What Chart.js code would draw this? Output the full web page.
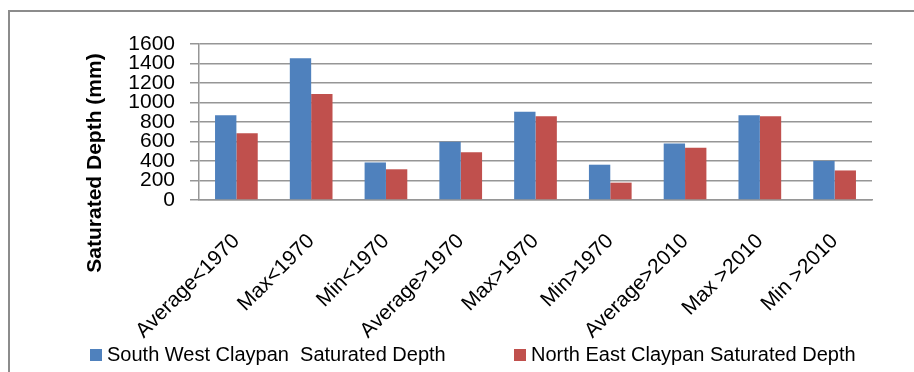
<!DOCTYPE html>
<html>
<head>
<meta charset="utf-8">
<script src="https://cdn.jsdelivr.net/npm/chart.js@4.4.1/dist/chart.umd.min.js"></script>
<style>
  html, body { margin: 0; padding: 0; background: #ffffff; }
  #wrap { position: relative; width: 914px; height: 372px; }
</style>
</head>
<body>
<div id="wrap"><canvas id="c" width="914" height="372"></canvas></div>
<script>
// Period statistics for each claypan
const categories = ['Average<1970', 'Max<1970', 'Min<1970', 'Average>1970', 'Max>1970',
                    'Min>1970', 'Average>2010', 'Max >2010', 'Min >2010'];
const southWestDepth = [868, 1455, 385, 597, 905, 362, 580, 870, 402];
const northEastDepth = [685, 1088, 315, 490, 860, 178, 535, 860, 303];
const seriesNames = ['South West Claypan  Saturated Depth', 'North East Claypan Saturated Depth'];
const yTickValues = [0, 200, 400, 600, 800, 1000, 1200, 1400, 1600];
const yAxisTitle = 'Saturated Depth (mm)';

const BLUE = '#4F81BD';
const RED = '#C0504D';
const GRID = '#969696';
const FONT = "'Liberation Sans', Arial, sans-serif";

// Outer frame of the chart object (left and top edges)
const framePlugin = {
  id: 'frame',
  beforeDraw(chart) {
    const ctx = chart.ctx;
    ctx.save();
    ctx.strokeStyle = '#8c8c8c';
    ctx.lineWidth = 2;
    ctx.beginPath();
    ctx.moveTo(9, chart.height);
    ctx.lineTo(9, 11);
    ctx.lineTo(chart.width, 11);
    ctx.stroke();
    ctx.restore();
  }
};

// Vertical axis title
const yTitlePlugin = {
  id: 'yTitle',
  afterDraw(chart) {
    const ctx = chart.ctx;
    ctx.save();
    ctx.translate(95, 163);
    ctx.rotate(-Math.PI / 2);
    ctx.font = 'bold 21px ' + FONT;
    ctx.fillStyle = '#000';
    ctx.textAlign = 'center';
    ctx.textBaseline = 'middle';
    ctx.fillText(yAxisTitle, 0, 0);
    ctx.restore();
  }
};

// Legend row under the category labels
const legendRowPlugin = {
  id: 'legendRow',
  afterDraw(chart) {
    const ctx = chart.ctx;
    const starts = [90, 514];
    const y = 355;
    ctx.save();
    ctx.font = '20px ' + FONT;
    ctx.textBaseline = 'middle';
    ctx.textAlign = 'left';
    chart.data.datasets.forEach((ds, i) => {
      const x = starts[i];
      ctx.fillStyle = ds.backgroundColor;
      ctx.fillRect(x, y - 6, 12, 12);
      ctx.fillStyle = '#000';
      ctx.fillText(ds.label, x + 17, y);
    });
    ctx.restore();
  }
};

new Chart(document.getElementById('c'), {
  type: 'bar',
  data: {
    labels: categories,
    datasets: [
      { label: seriesNames[0], data: southWestDepth, backgroundColor: BLUE },
      { label: seriesNames[1], data: northEastDepth, backgroundColor: RED }
    ]
  },
  options: {
    responsive: false,
    animation: false,
    devicePixelRatio: 1,
    layout: { padding: { left: 100, top: 44, right: 42, bottom: 28 } },
    datasets: { bar: { categoryPercentage: 0.571, barPercentage: 1.0 } },
    plugins: { legend: { display: false }, tooltip: { enabled: false } },
    scales: {
      x: {
        grid: { display: false },
        border: { display: true, color: GRID, width: 1.5 },
        ticks: {
          autoSkip: false, maxRotation: 45, minRotation: 45,
          color: '#000', font: { family: FONT, size: 21 }, padding: 21
        },
        afterFit(scale) { scale.height = 144; }
      },
      y: {
        min: 0, max: 1600,
        afterBuildTicks(scale) { scale.ticks = yTickValues.map(v => ({ value: v })); },
        ticks: {
          autoSkip: false, color: '#000', font: { family: FONT, size: 21 }, padding: 15,
          callback: (v) => String(v)
        },
        grid: { color: GRID, lineWidth: 1.5, tickLength: 9, drawTicks: true },
        border: { display: true, color: GRID, width: 1.5 },
        afterFit(scale) { scale.width = 99; }
      }
    }
  },
  plugins: [framePlugin, yTitlePlugin, legendRowPlugin]
});
</script>
</body>
</html>
